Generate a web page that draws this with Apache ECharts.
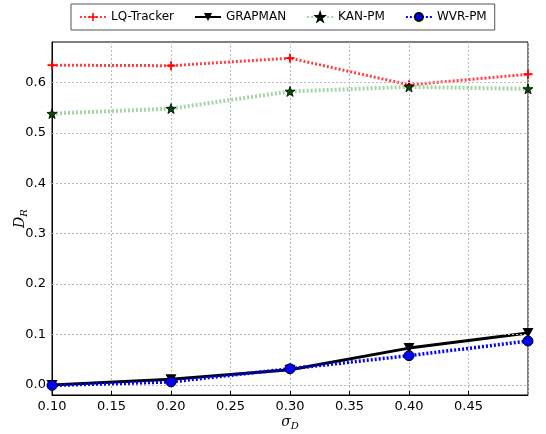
<!DOCTYPE html>
<html>
<head>
<meta charset="utf-8">
<script src="https://cdn.jsdelivr.net/npm/echarts@6/dist/echarts.min.js"></script>
<style>html,body{margin:0;padding:0;background:#fff;}#c{width:546px;height:434px;}</style>
</head>
<body>
<div id="c"></div>
<script>
var sigma = [0.1, 0.2, 0.3, 0.4, 0.5];
var lqTracker = [0.634, 0.633, 0.648, 0.595, 0.616];
var grapman = [0.000, 0.011, 0.030, 0.073, 0.103];
var kanPm = [0.538, 0.548, 0.582, 0.591, 0.587];
var wvrPm = [-0.001, 0.006, 0.032, 0.058, 0.087];
var yTicks = [0.0, 0.1, 0.2, 0.3, 0.4, 0.5, 0.6];
var xTicks = [0.10, 0.15, 0.20, 0.25, 0.30, 0.35, 0.40, 0.45];

function pts(ys) { return sigma.map(function (x, i) { return [x, ys[i]]; }); }

var chart = echarts.init(document.getElementById('c'));
var font = 'DejaVu Sans';
var plus = 'path://M4,0h2v4h4v2h-4v4h-2v-4h-4v-2h4z';
var star = 'path://M5,0 L6.18,3.38 L9.76,3.45 L6.9,5.62 L7.94,9.05 L5,7 L2.06,9.05 L3.1,5.62 L0.24,3.45 L3.82,3.38 Z';
var tri = 'path://M0,0 L10,0 L5,9 Z';

var option = {
  animation: false,
  backgroundColor: '#fff',
  textStyle: { fontFamily: font },
  legend: {
    left: 71, top: 4,
    padding: [7, 8, 7, 8],
    borderColor: '#555', borderWidth: 1,
    itemWidth: 26, itemHeight: 10, itemGap: 20,
    textStyle: { fontFamily: font, fontSize: 12, color: '#000' },
    data: ['LQ-Tracker', 'GRAPMAN', 'KAN-PM', 'WVR-PM']
  },
  grid: { left: 52, right: 18, top: 42, bottom: 39, containLabel: false, outerBoundsMode: 'none',
    show: true, borderColor: '#000', borderWidth: 1, backgroundColor: 'transparent' },
  xAxis: {
    type: 'value', min: 0.1, max: 0.5, interval: 0.05,
    name: '{i|σ}{s|D}', nameLocation: 'middle', nameGap: 18, nameMoveOverlap: false,
    nameTextStyle: { rich: { i: { fontFamily: 'DejaVu Serif', fontStyle: 'italic', fontSize: 14, color: '#000' }, s: { fontFamily: 'DejaVu Serif', fontStyle: 'italic', fontSize: 10, color: '#000', verticalAlign: 'bottom', padding: [8, 0, 0, 0] } } },
    axisLine: { onZero: false, lineStyle: { color: '#000' } },
    axisTick: { inside: true, length: 4, lineStyle: { color: '#000' } },
    axisLabel: { fontFamily: font, fontSize: 13, color: '#000', margin: 5, showMaxLabel: false,
      formatter: function (v) { return v.toFixed(2); } },
    splitLine: { show: true, lineStyle: { color: '#bbbbbb', type: [2, 2], width: 1 } }
  },
  yAxis: {
    type: 'value', min: -0.02, max: 0.68, interval: 0.02,
    name: '{i|D}{s|R}', nameLocation: 'middle', nameGap: 23, nameRotate: 90, nameMoveOverlap: false,
    nameTextStyle: { rich: { i: { fontFamily: 'DejaVu Serif', fontStyle: 'italic', fontSize: 14, color: '#000' }, s: { fontFamily: 'DejaVu Serif', fontStyle: 'italic', fontSize: 10, color: '#000', verticalAlign: 'bottom', padding: [8, 0, 0, 0] } } },
    axisLine: { show: true, onZero: false, lineStyle: { color: '#000' } },
    axisTick: { show: false },
    axisLabel: { fontFamily: font, fontSize: 13, color: '#000', margin: 6,
      formatter: function (v) {
        var k = Math.round(v * 10);
        if (Math.abs(v * 10 - k) < 1e-6 && k >= 0) return (k / 10).toFixed(1);
        return '';
      } },
    splitLine: { show: false }
  },
  series: [
    {
      name: 'grid', type: 'line', data: pts(grapman), z: 0, silent: true,
      symbol: 'none', lineStyle: { opacity: 0 }, legendHoverLink: false,
      markLine: {
        silent: true, symbol: 'none', animation: false,
        label: { show: false },
        lineStyle: { color: '#bbbbbb', type: [2, 2], width: 1 },
        data: yTicks.map(function (v) { return { yAxis: v }; })
      }
    },
    {
      name: 'LQ-Tracker', type: 'line', data: pts(lqTracker), z: 3,
      symbol: plus, symbolSize: 9,
      itemStyle: { color: '#ff0000' },
      lineStyle: { color: 'rgba(255,0,0,0.75)', width: 3, type: [2, 2] }
    },
    {
      name: 'GRAPMAN', type: 'line', data: pts(grapman), z: 4,
      symbol: tri, symbolSize: [11, 10],
      itemStyle: { color: '#000' },
      lineStyle: { color: '#000', width: 3, type: 'solid' }
    },
    {
      name: 'KAN-PM', type: 'line', data: pts(kanPm), z: 3,
      symbol: star, symbolSize: 10,
      itemStyle: { color: '#005000', borderColor: '#000', borderWidth: 0.8 },
      lineStyle: { color: 'rgba(80,170,80,0.5)', width: 4, type: [2, 2] }
    },
    {
      name: 'WVR-PM', type: 'line', data: pts(wvrPm), z: 5,
      symbol: 'circle', symbolSize: 10,
      itemStyle: { color: '#0000ff', borderColor: '#000', borderWidth: 1 },
      lineStyle: { color: '#0000ff', width: 3.5, type: [2, 2] }
    }
  ]
};
chart.setOption(option);
</script>
</body>
</html>
